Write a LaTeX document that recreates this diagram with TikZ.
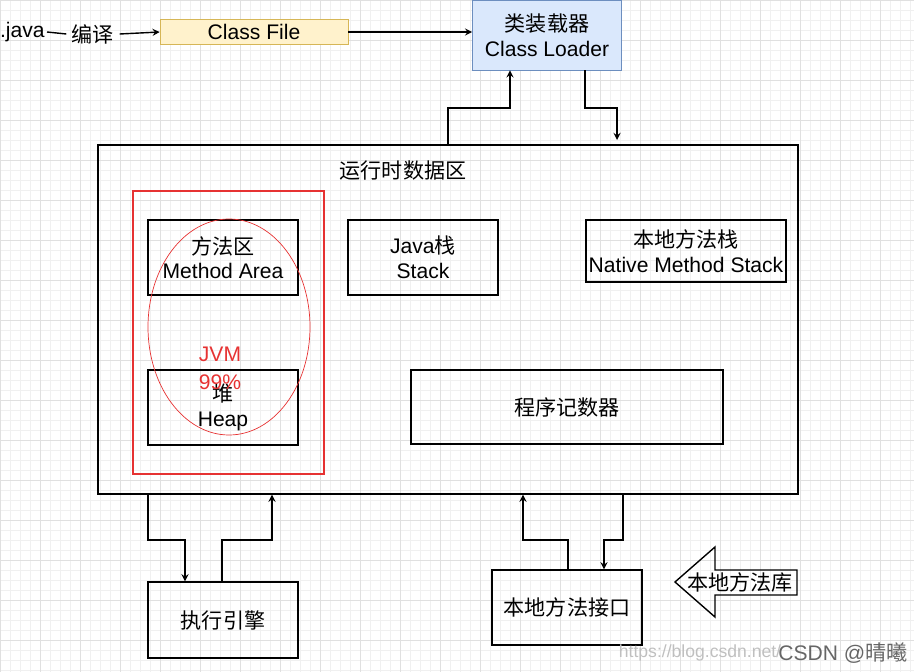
\documentclass[tikz,border=0pt]{standalone}
\usepackage{fontspec}
\setmainfont{Liberation Sans}
\newfontfamily\cjk{Noto Sans CJK SC}
\definecolor{cfFill}{RGB}{255,242,204}
\definecolor{cfDraw}{RGB}{214,182,86}
\definecolor{clFill}{RGB}{218,232,252}
\definecolor{clDraw}{RGB}{108,142,191}
\definecolor{jvmRed}{RGB}{230,50,50}

\tikzset{
  txt/.style={inner sep=0pt, font=\fontsize{12}{14}\selectfont},
  box/.style={draw, thick, align=center, inner sep=0pt, font=\fontsize{12}{14}\selectfont},
  conn/.style={thick, ->, >=stealth},
}

\begin{document}
\begin{tikzpicture}[x=0.02cm, y=-0.02cm]
  \useasboundingbox (0,0) rectangle (914,672);
  % grid
  \foreach \g in {0,10,...,910} { \draw[black!6] (\g,0) -- (\g,672); }
  \foreach \g in {0,10,...,670} { \draw[black!6] (0,\g) -- (914,\g); }
  \foreach \g in {0,40,...,910} { \draw[black!12] (\g,0) -- (\g,672); }
  \foreach \g in {0,40,...,670} { \draw[black!12] (0,\g) -- (914,\g); }

  % top row
  \node[txt, anchor=east] (java) at (45,32) {.java};
  \node[txt] (compile) at (93,34) {\cjk 编译};
  \node[box, fill=cfFill, draw=cfDraw, thin, minimum width=188*0.02cm, minimum height=25*0.02cm] (classfile) at (254,32) {Class File};
  \node[box, fill=clFill, draw=clDraw, thin, minimum width=149*0.02cm, minimum height=70*0.02cm] (loader) at (547,35) {{\cjk 类装载器}\\Class Loader};
  \draw[thick] (java.east) ++(2,0) -- ([xshift=-3]compile.west);
  \draw[conn] ([xshift=3]compile.east) -- (classfile.west);
  \draw[conn] (classfile.east) -- (loader.west |- classfile.east);

  % runtime data area
  \node[draw, thick, minimum width=700*0.02cm, minimum height=349*0.02cm, inner sep=0pt] (area) at (448,319.5) {};
  \node[txt] (areatitle) at (403,171) {\cjk 运行时数据区};
  \draw[conn] (area.north -| 448,0) -- (448,108) -- (510,108) -- (loader.south -| 510,0);
  \draw[conn] (loader.south -| 585,0) -- (585,108) -- (617,108) -- (617,140);

  \node[draw=jvmRed, very thick, minimum width=191*0.02cm, minimum height=283*0.02cm, inner sep=0pt] (jvmbox) at (228.5,332.5) {};
  \node[box, minimum width=150*0.02cm, minimum height=75*0.02cm] (method) at (223,257.5) {{\cjk 方法区}\\Method Area};
  \node[box, minimum width=150*0.02cm, minimum height=75*0.02cm] (stack) at (423,257.5) {Java{\cjk 栈}\\Stack};
  \node[box, minimum width=200*0.02cm, minimum height=62*0.02cm] (native) at (686,251) {{\cjk 本地方法栈}\\Native Method Stack};
  \node[box, minimum width=150*0.02cm, minimum height=75*0.02cm] (heap) at (223,407.5) {{\cjk 堆}\\Heap};
  \node[box, minimum width=312*0.02cm, minimum height=74*0.02cm] (pc) at (567,407) {\cjk 程序记数器};
  \draw[jvmRed, thin] (229,327) ellipse [x radius=81, y radius=108];
  \node[txt, text=jvmRed] (jvm) at (220,354) {JVM};
  \node[txt, text=jvmRed] (pct) at (220,382) {99\%};

  % bottom
  \node[box, minimum width=150*0.02cm, minimum height=76*0.02cm] (engine) at (223,620) {\cjk 执行引擎};
  \node[box, minimum width=150*0.02cm, minimum height=75*0.02cm] (nif) at (567,607.5) {\cjk 本地方法接口};
  \draw[conn] (area.south -| 148,0) -- (148,540) -- (185,540) -- (engine.north -| 185,0);
  \draw[conn] (engine.north -| 222,0) -- (222,540) -- (272,540) -- (area.south -| 272,0);
  \draw[conn] (nif.north -| 568,0) -- (568,540) -- (523,540) -- (area.south -| 523,0);
  \draw[conn] (area.south -| 623,0) -- (623,540) -- (604,540) -- (nif.north -| 604,0);
  \draw[thick] (675,582) -- (715,547) -- (715,570) -- (797,570) -- (797,595) -- (715,595) -- (715,617) -- cycle;
  \node[txt] (lib) at (740,582) {\cjk 本地方法库};

  % watermark
  \node[black!25, font=\fontsize{10}{12}\selectfont] (url) at (700,653) {https://blog.csdn.net/};
  \node[black!60, font=\fontsize{12}{14}\selectfont] (csdn) at (843,653) {CSDN @{\cjk 晴曦}};
\end{tikzpicture}
\end{document}
